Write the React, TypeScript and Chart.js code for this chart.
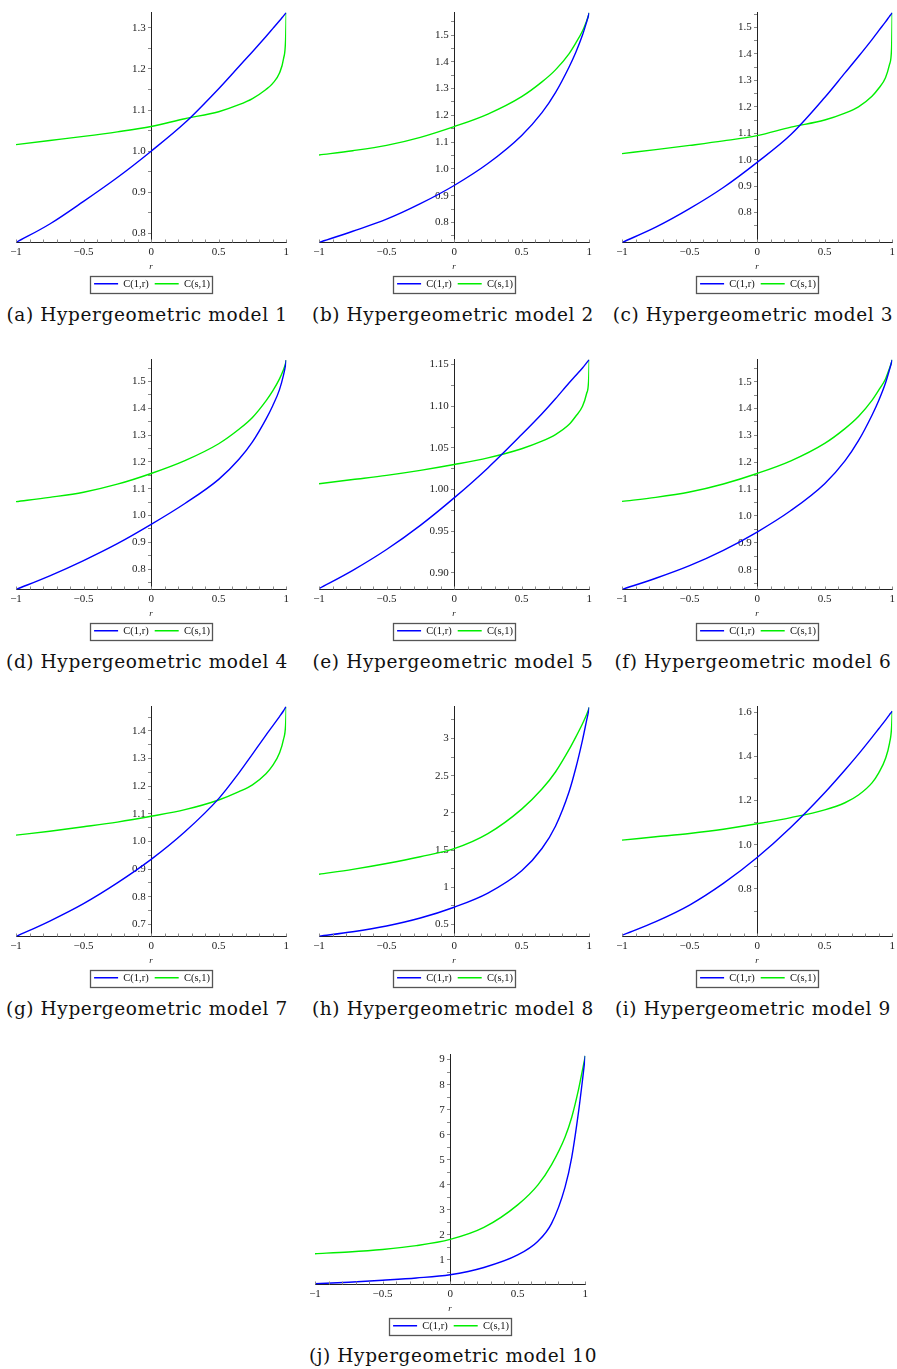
import React, { useEffect, useRef } from "react";
import { Chart, registerables } from "chart.js";

Chart.register(...registerables);

// ---------------- data ----------------
const R = [-1, -0.75, -0.5, -0.25, 0, 0.25, 0.5, 0.65, 0.75, 0.85, 0.9, 0.95, 0.98, 0.995, 1];
const SERIES_LABELS = ["C(1,r)", "C(s,1)"];

const A_BLUE = [0.778, 0.823, 0.878, 0.936, 1.0, 1.069, 1.152, 1.206, 1.242, 1.279, 1.298, 1.317, 1.329, 1.335, 1.337];
const A_GREEN = [1.016, 1.026, 1.036, 1.047, 1.06, 1.079, 1.096, 1.113, 1.128, 1.15, 1.165, 1.19, 1.225, 1.27, 1.337];
const B_BLUE = [0.725, 0.767, 0.812, 0.87, 0.938, 1.02, 1.125, 1.21, 1.285, 1.38, 1.435, 1.5, 1.548, 1.574, 1.584];
const B_GREEN = [1.052, 1.068, 1.088, 1.118, 1.158, 1.205, 1.27, 1.325, 1.37, 1.43, 1.47, 1.515, 1.552, 1.574, 1.584];
const C_BLUE = [0.687, 0.745, 0.815, 0.895, 0.99, 1.095, 1.235, 1.328, 1.39, 1.454, 1.488, 1.521, 1.542, 1.552, 1.556];
const C_GREEN = [1.023, 1.038, 1.054, 1.071, 1.091, 1.123, 1.15, 1.176, 1.2, 1.24, 1.27, 1.31, 1.36, 1.42, 1.556];
const D_BLUE = [0.724, 0.775, 0.832, 0.895, 0.967, 1.045, 1.135, 1.21, 1.275, 1.36, 1.41, 1.47, 1.525, 1.562, 1.58];
const D_GREEN = [1.052, 1.068, 1.087, 1.117, 1.157, 1.205, 1.268, 1.322, 1.366, 1.428, 1.465, 1.51, 1.545, 1.568, 1.58];
const E_BLUE = [0.881, 0.903, 0.928, 0.957, 0.99, 1.026, 1.066, 1.091, 1.109, 1.128, 1.137, 1.146, 1.152, 1.155, 1.156];
const E_GREEN = [1.007, 1.012, 1.017, 1.023, 1.03, 1.038, 1.049, 1.058, 1.066, 1.078, 1.088, 1.1, 1.115, 1.13, 1.156];
const F_BLUE = [0.726, 0.768, 0.815, 0.872, 0.94, 1.02, 1.12, 1.205, 1.28, 1.375, 1.43, 1.495, 1.545, 1.572, 1.582];
const F_GREEN = [1.054, 1.069, 1.089, 1.119, 1.158, 1.205, 1.27, 1.325, 1.37, 1.43, 1.468, 1.51, 1.55, 1.572, 1.582];
const G_BLUE = [0.656, 0.712, 0.775, 0.85, 0.935, 1.035, 1.155, 1.248, 1.316, 1.385, 1.418, 1.452, 1.473, 1.485, 1.488];
const G_GREEN = [1.023, 1.037, 1.053, 1.07, 1.091, 1.115, 1.15, 1.18, 1.205, 1.245, 1.275, 1.32, 1.37, 1.42, 1.488];
const H_BLUE = [0.34, 0.4, 0.478, 0.585, 0.73, 0.92, 1.22, 1.52, 1.82, 2.28, 2.6, 2.98, 3.24, 3.37, 3.42];
const H_GREEN = [1.173, 1.24, 1.319, 1.41, 1.518, 1.72, 2.05, 2.32, 2.55, 2.85, 3.02, 3.2, 3.32, 3.39, 3.42];
const I_BLUE = [0.59, 0.652, 0.727, 0.825, 0.942, 1.079, 1.235, 1.338, 1.41, 1.486, 1.525, 1.564, 1.589, 1.6, 1.605];
const I_GREEN = [1.021, 1.036, 1.051, 1.07, 1.095, 1.123, 1.158, 1.19, 1.225, 1.28, 1.325, 1.39, 1.46, 1.53, 1.605];
const J_BLUE = [0.05, 0.11, 0.19, 0.28, 0.41, 0.7, 1.2, 1.75, 2.45, 3.9, 5.1, 6.9, 8.2, 8.9, 9.15];
const J_GREEN = [1.25, 1.32, 1.42, 1.57, 1.82, 2.3, 3.2, 4.0, 4.8, 5.9, 6.7, 7.8, 8.6, 9.0, 9.15];

const X_TICKS = [-1, -0.5, 0, 0.5, 1];
const X_TICK_LABELS = ["\u22121", "\u22120.5", "0", "0.5", "1"];
const X_MINOR = [-0.9, -0.8, -0.7, -0.6, -0.4, -0.3, -0.2, -0.1, 0.1, 0.2, 0.3, 0.4, 0.6, 0.7, 0.8, 0.9];

const YT_1 = [0.8, 0.9, 1.0, 1.1, 1.2, 1.3];
const YL_1 = ["0.8", "0.9", "1.0", "1.1", "1.2", "1.3"];
const YM_1 = [0.85, 0.95, 1.05, 1.15, 1.25];
const YT_2 = [0.8, 0.9, 1.0, 1.1, 1.2, 1.3, 1.4, 1.5];
const YL_2 = ["0.8", "0.9", "1.0", "1.1", "1.2", "1.3", "1.4", "1.5"];
const YM_2 = [0.75, 0.85, 0.95, 1.05, 1.15, 1.25, 1.35, 1.45, 1.55];
const YT_5 = [0.9, 0.95, 1.0, 1.05, 1.1, 1.15];
const YL_5 = ["0.90", "0.95", "1.00", "1.05", "1.10", "1.15"];
const YM_5 = [0.925, 0.975, 1.025, 1.075, 1.125];
const YT_7 = [0.7, 0.8, 0.9, 1.0, 1.1, 1.2, 1.3, 1.4];
const YL_7 = ["0.7", "0.8", "0.9", "1.0", "1.1", "1.2", "1.3", "1.4"];
const YM_7 = [0.75, 0.85, 0.95, 1.05, 1.15, 1.25, 1.35, 1.45];
const YT_8 = [0.5, 1, 1.5, 2, 2.5, 3];
const YL_8 = ["0.5", "1", "1.5", "2", "2.5", "3"];
const YM_8 = [0.75, 1.25, 1.75, 2.25, 2.75, 3.25];
const YT_9 = [0.8, 1.0, 1.2, 1.4, 1.6];
const YL_9 = ["0.8", "1.0", "1.2", "1.4", "1.6"];
const YM_9 = [0.7, 0.9, 1.1, 1.3, 1.5];
const YT_10 = [1, 2, 3, 4, 5, 6, 7, 8, 9];
const YL_10 = ["1", "2", "3", "4", "5", "6", "7", "8", "9"];
const YM_10 = [0.5, 1.5, 2.5, 3.5, 4.5, 5.5, 6.5, 7.5, 8.5];

const CAPTIONS = [
  "(a) Hypergeometric model 1",
  "(b) Hypergeometric model 2",
  "(c) Hypergeometric model 3",
  "(d) Hypergeometric model 4",
  "(e) Hypergeometric model 5",
  "(f) Hypergeometric model 6",
  "(g) Hypergeometric model 7",
  "(h) Hypergeometric model 8",
  "(i) Hypergeometric model 9",
  "(j) Hypergeometric model 10",
];

const PANELS = [
  { blue: A_BLUE, green: A_GREEN, yMin: 0.778, yMax: 1.337, yt: YT_1, yl: YL_1, ym: YM_1 },
  { blue: B_BLUE, green: B_GREEN, yMin: 0.725, yMax: 1.584, yt: YT_2, yl: YL_2, ym: YM_2 },
  { blue: C_BLUE, green: C_GREEN, yMin: 0.687, yMax: 1.556, yt: YT_2, yl: YL_2, ym: YM_2 },
  { blue: D_BLUE, green: D_GREEN, yMin: 0.724, yMax: 1.582, yt: YT_2, yl: YL_2, ym: YM_2 },
  { blue: E_BLUE, green: E_GREEN, yMin: 0.88, yMax: 1.156, yt: YT_5, yl: YL_5, ym: YM_5 },
  { blue: F_BLUE, green: F_GREEN, yMin: 0.726, yMax: 1.582, yt: YT_2, yl: YL_2, ym: YM_2 },
  { blue: G_BLUE, green: G_GREEN, yMin: 0.656, yMax: 1.488, yt: YT_7, yl: YL_7, ym: YM_7 },
  { blue: H_BLUE, green: H_GREEN, yMin: 0.336, yMax: 3.43, yt: YT_8, yl: YL_8, ym: YM_8 },
  { blue: I_BLUE, green: I_GREEN, yMin: 0.585, yMax: 1.625, yt: YT_9, yl: YL_9, ym: YM_9 },
  { blue: J_BLUE, green: J_GREEN, yMin: 0.02, yMax: 9.2, yt: YT_10, yl: YL_10, ym: YM_10 },
];

// ---------------- layout (page px) ----------------
const LAYOUT = [
  { l: 16, t: 12, cx: 147, cy: 315 },
  { l: 319, t: 12, cx: 453, cy: 315 },
  { l: 622, t: 12, cx: 753, cy: 315 },
  { l: 16, t: 359, cx: 147, cy: 662 },
  { l: 319, t: 359, cx: 453, cy: 662 },
  { l: 622, t: 359, cx: 753, cy: 662 },
  { l: 16, t: 706, cx: 147, cy: 1009 },
  { l: 319, t: 706, cx: 453, cy: 1009 },
  { l: 622, t: 706, cx: 753, cy: 1009 },
  { l: 315, t: 1054, cx: 453, cy: 1356 },
];
const CANVAS_W = 288;
const CANVAS_H = 297;
const PAD = { top: 8, bottom: 2, left: 12, right: 4 };

const BLUE = "#0000ff";
const GREEN = "#00ee00";
const SERIF = "'Liberation Serif', 'Times New Roman', serif";
const TICK_FONT = { family: SERIF, size: 11 };

const decorPlugin = {
  id: "decor",
  afterDraw(chart: any) {
    const { ctx, chartArea, scales } = chart;
    const xs = scales.x;
    ctx.save();
    ctx.strokeStyle = "#8a8a8a";
    ctx.lineWidth = 1;
    const all = X_TICKS.concat(X_MINOR);
    all.forEach((v) => {
      const px = Math.round(xs.getPixelForValue(v)) + 0.5;
      ctx.beginPath();
      ctx.moveTo(px, chartArea.bottom);
      ctx.lineTo(px, chartArea.bottom - 3);
      ctx.stroke();
    });
    const hb = chart.legend && chart.legend.legendHitBoxes;
    if (hb && hb.length) {
      let l = Infinity, r = -Infinity, t = Infinity, b = -Infinity;
      hb.forEach((h: any) => {
        l = Math.min(l, h.left);
        r = Math.max(r, h.left + h.width);
        t = Math.min(t, h.top);
        b = Math.max(b, h.top + h.height);
      });
      ctx.strokeStyle = "#555";
      ctx.lineWidth = 1.3;
      ctx.strokeRect(Math.round(l - 4) + 0.5, Math.round(t - 3) + 0.5, Math.round(r - l + 6), Math.round(b - t + 6));
    }
    ctx.restore();
  },
};

function Panel({ idx }: { idx: number }) {
  const ref = useRef<HTMLCanvasElement | null>(null);
  const p = PANELS[idx];
  const lay = LAYOUT[idx];
  useEffect(() => {
    if (!ref.current) return;
    const chart = new Chart(ref.current, {
      type: "line",
      data: {
        datasets: [
          {
            label: SERIES_LABELS[0],
            data: R.map((x, i) => ({ x, y: p.blue[i] })),
            borderColor: BLUE,
            backgroundColor: BLUE,
            borderWidth: 1.4,
            pointRadius: 0,
            cubicInterpolationMode: "monotone",
          },
          {
            label: SERIES_LABELS[1],
            data: R.map((x, i) => ({ x, y: p.green[i] })),
            borderColor: GREEN,
            backgroundColor: GREEN,
            borderWidth: 1.4,
            pointRadius: 0,
            cubicInterpolationMode: "monotone",
          },
        ],
      },
      options: {
        responsive: false,
        animation: false,
        events: [],
        layout: { padding: PAD },
        scales: {
          x: {
            type: "linear",
            min: -1,
            max: 1,
            position: "bottom",
            border: { display: true, color: "#222", width: 1 },
            grid: { display: false, drawTicks: false },
            afterBuildTicks: (s: any) => {
              s.ticks = X_TICKS.map((v) => ({ value: v }));
            },
            ticks: {
              autoSkip: false,
              maxRotation: 0,
              padding: 3,
              color: "#222",
              font: TICK_FONT,
              callback: (v: any) => {
                const k = X_TICKS.findIndex((t) => Math.abs(t - v) < 1e-9);
                return k >= 0 ? X_TICK_LABELS[k] : "";
              },
            },
            title: {
              display: true,
              text: "r",
              color: "#222",
              font: { family: SERIF, size: 9, style: "italic" },
              padding: { top: 0, bottom: 0 },
            },
          },
          y: {
            type: "linear",
            min: p.yMin,
            max: p.yMax,
            position: { x: 0 } as any,
            border: { display: true, color: "#222", width: 1 },
            grid: { display: true, drawOnChartArea: false, drawTicks: true, tickLength: 3, color: "#8a8a8a" },
            afterBuildTicks: (s: any) => {
              s.ticks = p.yt.concat(p.ym).sort((a, b) => a - b).map((v) => ({ value: v }));
            },
            ticks: {
              autoSkip: false,
              padding: 2,
              color: "#222",
              font: TICK_FONT,
              callback: (v: any) => {
                const k = p.yt.findIndex((t) => Math.abs(t - v) < 1e-9);
                return k >= 0 ? p.yl[k] + "\u2002" : "";
              },
            },
          },
        },
        plugins: {
          legend: {
            position: "bottom",
            labels: {
              usePointStyle: true,
              pointStyle: "line",
              pointStyleWidth: 24,
              padding: 6,
              color: "#111",
              font: { family: SERIF, size: 10.5 },
            },
          },
          tooltip: { enabled: false },
        },
      },
      plugins: [decorPlugin],
    } as any);
    return () => chart.destroy();
  }, [idx]);

  return (
    <>
      <canvas
        ref={ref}
        width={CANVAS_W}
        height={CANVAS_H}
        style={{
          position: "absolute",
          left: lay.l - PAD.left,
          top: lay.t - PAD.top,
          width: CANVAS_W,
          height: CANVAS_H,
        }}
      />
      <div
        style={{
          position: "absolute",
          left: lay.cx - 170,
          width: 340,
          top: lay.cy - 12,
          height: 24,
          lineHeight: "24px",
          textAlign: "center",
          fontFamily: "'DejaVu Serif', serif",
          fontSize: 18.5,
          letterSpacing: "0.6px",
          color: "#111",
          whiteSpace: "nowrap",
        }}
      >
        {CAPTIONS[idx]}
      </div>
    </>
  );
}

export default function App() {
  useEffect(() => {
    document.body.style.overflow = "hidden";
    document.documentElement.style.overflow = "hidden";
  }, []);
  return (
    <div
      style={{
        position: "absolute",
        left: 0,
        top: 0,
        width: 897,
        height: 1369,
        overflow: "hidden",
        background: "#fff",
      }}
    >
      {PANELS.map((_, i) => (
        <Panel key={i} idx={i} />
      ))}
    </div>
  );
}
